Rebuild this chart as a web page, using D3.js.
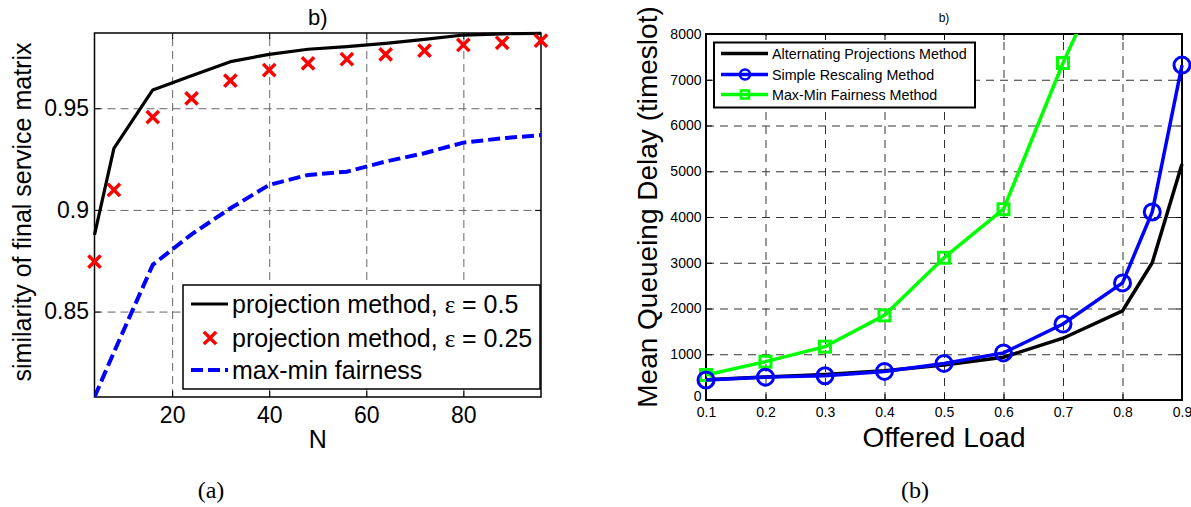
<!DOCTYPE html>
<html>
<head>
<meta charset="utf-8">
<script src="https://cdn.jsdelivr.net/npm/d3@7"></script>
<style>
  body { margin: 0; background: #fff; }
  svg { font-family: "Liberation Sans", Arial, sans-serif; }
</style>
</head>
<body>
<svg id="chart" width="1191" height="507"></svg>
<script>
// ---- panel (a) data ----
const nValues = [4, 8, 16, 24, 32, 40, 48, 56, 64, 72, 80, 88, 96]
const projHalf = [0.8877, 0.9303, 0.959, 0.966, 0.9729, 0.9765, 0.979, 0.9803, 0.9819, 0.9839, 0.986, 0.9866, 0.9868]
const projQuarter = [0.8746, 0.9098, 0.9456, 0.9549, 0.9636, 0.9688, 0.9721, 0.9741, 0.9765, 0.9783, 0.9811, 0.9822, 0.9832]
const maxMinFair = [0.808, 0.83, 0.873, 0.888, 0.9008, 0.9123, 0.9172, 0.9188, 0.9238, 0.9279, 0.9331, 0.9352, 0.9368]
const nTicks = [20, 40, 60, 80]
const simTicks = [0.85, 0.9, 0.95]
const legendA = ['projection method, ', 'projection method, ', 'max-min fairness']
const legendAEps = [' = 0.5', ' = 0.25', '']

// ---- panel (b) data ----
const loadValues = [0.1, 0.2, 0.3, 0.4, 0.5, 0.6, 0.7, 0.8, 0.85, 0.9]
const altProj = [445, 505, 560, 640, 765, 935, 1350, 1950, 3000, 5160]
const simpleRescale = [437, 500, 530, 625, 800, 1030, 1660, 2560, 4110, 7320]
const greenLoad = [0.1, 0.2, 0.3, 0.4, 0.5, 0.6, 0.7, 0.8]
const maxMinDelay = [547, 838, 1166, 1850, 3110, 4170, 7365, 10200]
const loadTicks = [0.1, 0.2, 0.3, 0.4, 0.5, 0.6, 0.7, 0.8, 0.9]
const delayTicks = [0, 1000, 2000, 3000, 4000, 5000, 6000, 7000, 8000]
const legendB = ['Alternating Projections Method', 'Simple Rescaling Method', 'Max-Min Fairness Method']

const FONT = '"Liberation Sans", Arial, sans-serif'
const SERIF = '"Liberation Serif", "Times New Roman", serif'
const svg = d3.select('#chart')

// helper: grid + inward ticks on all four sides
function frame(g, x, y, box, xt, yt, opt) {
  const h = box.bottom - box.top
  const w = box.right - box.left
  g.append('g')
    .attr('transform', `translate(0,${box.bottom})`)
    .call(d3.axisBottom(x).tickValues(xt).tickSize(-h).tickFormat(''))
    .call(s => s.select('.domain').remove())
    .selectAll('line').attr('stroke', opt.grid).attr('stroke-dasharray', opt.dash)
  g.append('g')
    .attr('transform', `translate(${box.left},0)`)
    .call(d3.axisLeft(y).tickValues(yt).tickSize(-w).tickFormat(''))
    .call(s => s.select('.domain').remove())
    .selectAll('line').attr('stroke', opt.grid).attr('stroke-dasharray', opt.dash)

  const bottom = g.append('g')
    .attr('transform', `translate(0,${box.bottom})`)
    .call(d3.axisBottom(x).tickValues(xt).tickSize(-6).tickPadding(opt.xPad).tickFormat(opt.xFmt))
  const left = g.append('g')
    .attr('transform', `translate(${box.left},0)`)
    .call(d3.axisLeft(y).tickValues(yt).tickSize(-6).tickPadding(opt.yPad).tickFormat(opt.yFmt))
  const top = g.append('g')
    .attr('transform', `translate(0,${box.top})`)
    .call(d3.axisTop(x).tickValues(xt).tickSize(-6).tickFormat(''))
  const right = g.append('g')
    .attr('transform', `translate(${box.right},0)`)
    .call(d3.axisRight(y).tickValues(yt).tickSize(-6).tickFormat(''))
  ;[bottom, left, top, right].forEach(a => {
    a.attr('font-family', FONT).attr('font-size', opt.tickFont)
    a.select('.domain').remove()
    a.selectAll('line').attr('stroke', '#000').attr('stroke-width', 1)
    a.selectAll('text').attr('fill', '#000')
  })
  g.append('rect')
    .attr('x', box.left).attr('y', box.top)
    .attr('width', w).attr('height', h)
    .attr('fill', 'none').attr('stroke', '#000').attr('stroke-width', opt.border)
  return left
}

// ================= panel (a) =================
function drawA() {
  const box = { left: 94.5, right: 541, top: 33, bottom: 397 }
  const x = d3.scaleLinear().domain([4, 96]).range([box.left, box.right])
  const y = d3.scaleLinear().domain([0.808, 0.987]).range([box.bottom, box.top])
  const g = svg.append('g')

  frame(g, x, y, box, nTicks, simTicks, {
    grid: '#666', dash: '8,5', xPad: 9.5, yPad: 5.5, tickFont: 23, border: 1.5,
    xFmt: d => d, yFmt: d => d
  })

  g.append('clipPath').attr('id', 'clipA')
    .append('rect').attr('x', box.left).attr('y', box.top - 2)
    .attr('width', box.right - box.left).attr('height', box.bottom - box.top + 2)

  const line = d3.line().x((d, i) => x(nValues[i])).y(d => y(d))
  const plot = g.append('g').attr('clip-path', 'url(#clipA)')
  plot.append('path').datum(maxMinFair)
    .attr('d', line).attr('fill', 'none')
    .attr('stroke', '#0000ff').attr('stroke-width', 4).attr('stroke-dasharray', '12,5')
  g.append('path').datum(projHalf)
    .attr('d', line).attr('fill', 'none')
    .attr('stroke', '#000').attr('stroke-width', 3.2).attr('stroke-linejoin', 'round')

  const cross = d3.symbol(d3.symbolTimes, 100)
  g.append('g').selectAll('path')
    .data(projQuarter)
    .enter()
    .append('path')
    .attr('d', cross)
    .attr('transform', (d, i) => `translate(${x(nValues[i])},${y(d)})`)
    .attr('stroke', '#ff0000').attr('stroke-width', 3.5).attr('fill', 'none')

  // legend
  const lg = g.append('g')
  lg.append('rect').attr('x', 183).attr('y', 285).attr('width', 357).attr('height', 104)
    .attr('fill', '#fff').attr('stroke', '#000').attr('stroke-width', 1.5)
  const rowY = [304, 338, 370]
  lg.append('line').attr('x1', 191).attr('x2', 228).attr('y1', rowY[0]).attr('y2', rowY[0])
    .attr('stroke', '#000').attr('stroke-width', 3.2)
  lg.append('path').attr('d', cross).attr('transform', `translate(210,${rowY[1]})`)
    .attr('stroke', '#ff0000').attr('stroke-width', 3.5).attr('fill', 'none')
  lg.append('line').attr('x1', 191).attr('x2', 228).attr('y1', rowY[2]).attr('y2', rowY[2])
    .attr('stroke', '#0000ff').attr('stroke-width', 4).attr('stroke-dasharray', '12,5')
  legendA.forEach((t, i) => {
    const txt = lg.append('text').attr('x', 232).attr('y', rowY[i]).attr('dy', '0.35em')
      .attr('font-size', 25).attr('font-family', FONT)
    txt.append('tspan').text(t)
    if (legendAEps[i]) {
      txt.append('tspan').attr('font-family', SERIF).text('ε')
      txt.append('tspan').text(legendAEps[i])
    }
  })

  // labels
  g.append('text').attr('x', (box.left + box.right) / 2).attr('y', 25)
    .attr('text-anchor', 'middle').attr('font-size', 22).text('b)')
  g.append('text').attr('x', (box.left + box.right) / 2).attr('y', 448)
    .attr('text-anchor', 'middle').attr('font-size', 25).text('N')
  g.append('text').attr('transform', `translate(31,${(box.top + box.bottom) / 2 - 3}) rotate(-90)`)
    .attr('text-anchor', 'middle').attr('font-size', 25).text('similarity of final service matrix')
  g.append('text').attr('x', 211).attr('y', 498)
    .attr('text-anchor', 'middle').attr('font-size', 24)
    .attr('font-family', SERIF).text('(a)')
}

// ================= panel (b) =================
function drawB() {
  const box = { left: 706, right: 1182, top: 34, bottom: 400 }
  const x = d3.scaleLinear().domain([0.1, 0.9]).range([box.left, box.right])
  const y = d3.scaleLinear().domain([0, 8000]).range([box.bottom, box.top])
  const g = svg.append('g')

  const leftAxis = frame(g, x, y, box, loadTicks, delayTicks, {
    grid: '#333', dash: '8,6', xPad: 7, yPad: 4.5, tickFont: 14, border: 2,
    xFmt: d => d, yFmt: d3.format('d')
  })
  // the "0" label sits a little higher, as in the original, so it clears "0.1"
  leftAxis.selectAll('.tick').filter(d => d === 0).select('text').attr('dy', '0.05em')

  g.append('clipPath').attr('id', 'clipB')
    .append('rect').attr('x', box.left - 12).attr('y', box.top)
    .attr('width', box.right - box.left + 24).attr('height', box.bottom - box.top + 12)

  const plot = g.append('g').attr('clip-path', 'url(#clipB)')

  const lineLoad = d3.line().x((d, i) => x(loadValues[i])).y(d => y(d))
  const lineGreen = d3.line().x((d, i) => x(greenLoad[i])).y(d => y(d))

  plot.append('path').datum(altProj).attr('d', lineLoad)
    .attr('fill', 'none').attr('stroke', '#000').attr('stroke-width', 3.5)

  plot.append('path').datum(maxMinDelay).attr('d', lineGreen)
    .attr('fill', 'none').attr('stroke', '#00ff00').attr('stroke-width', 3.5)
  plot.append('g').selectAll('rect')
    .data(maxMinDelay)
    .enter()
    .append('rect')
    .attr('x', (d, i) => x(greenLoad[i]) - 5.5)
    .attr('y', d => y(d) - 5.5)
    .attr('width', 11).attr('height', 11)
    .attr('fill', 'none').attr('stroke', '#00ff00').attr('stroke-width', 3)

  plot.append('path').datum(simpleRescale).attr('d', lineLoad)
    .attr('fill', 'none').attr('stroke', '#0000ff').attr('stroke-width', 3.5)
  plot.append('g').selectAll('circle')
    .data(simpleRescale)
    .enter()
    .append('circle')
    .attr('cx', (d, i) => x(loadValues[i]))
    .attr('cy', d => y(d))
    .attr('r', 8)
    .attr('fill', 'none').attr('stroke', '#0000ff').attr('stroke-width', 3)

  // legend
  const lg = g.append('g')
  lg.append('rect').attr('x', 714).attr('y', 42.5).attr('width', 261).attr('height', 65)
    .attr('fill', '#fff').attr('stroke', '#000').attr('stroke-width', 2)
  const rowY = [53.5, 74.5, 94.5]
  const colors = ['#000', '#0000ff', '#00ff00']
  rowY.forEach((ry, i) => {
    lg.append('line').attr('x1', 721).attr('x2', 768).attr('y1', ry).attr('y2', ry)
      .attr('stroke', colors[i]).attr('stroke-width', 3.5)
    lg.append('text').attr('x', 772).attr('y', ry).attr('dy', '0.35em')
      .attr('font-size', 14.3).text(legendB[i])
  })
  lg.append('circle').attr('cx', 745).attr('cy', rowY[1]).attr('r', 5)
    .attr('fill', 'none').attr('stroke', '#0000ff').attr('stroke-width', 2.5)
  lg.append('rect').attr('x', 741).attr('y', rowY[2] - 4).attr('width', 8).attr('height', 8)
    .attr('fill', 'none').attr('stroke', '#00ff00').attr('stroke-width', 2.5)

  // labels
  g.append('text').attr('x', (box.left + box.right) / 2).attr('y', 22)
    .attr('text-anchor', 'middle').attr('font-size', 12).text('b)')
  g.append('text').attr('x', (box.left + box.right) / 2).attr('y', 447)
    .attr('text-anchor', 'middle').attr('font-size', 28).text('Offered Load')
  g.append('text').attr('transform', `translate(657,207) rotate(-90)`)
    .attr('text-anchor', 'middle').attr('font-size', 28).text('Mean Queueing Delay (timeslot)')
  g.append('text').attr('x', 915).attr('y', 498)
    .attr('text-anchor', 'middle').attr('font-size', 24)
    .attr('font-family', SERIF).text('(b)')
}

drawA()
drawB()
</script>
</body>
</html>
